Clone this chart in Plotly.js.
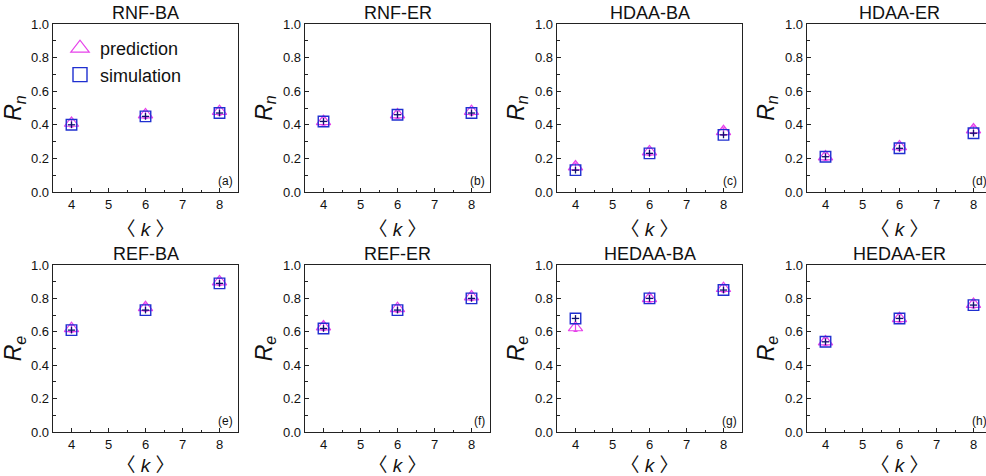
<!DOCTYPE html>
<html>
<head>
<meta charset="utf-8">
<script src="https://cdn.plot.ly/plotly-3.0.1.min.js"></script>
<style>
html,body{margin:0;padding:0;overflow:hidden;background:#fff;}
#chart{width:1000px;height:476px;}
</style>
</head>
<body>
<div id="chart"></div>
<script>
// ---- data ----
const kValues = [4, 6, 8];
const panelTitles = ["RNF-BA", "RNF-ER", "HDAA-BA", "HDAA-ER", "REF-BA", "REF-ER", "HEDAA-BA", "HEDAA-ER"];
const panelLetters = ["(a)", "(b)", "(c)", "(d)", "(e)", "(f)", "(g)", "(h)"];
const yLabels = ["R", "R", "R", "R", "R", "R", "R", "R"];
const ySubs = ["n", "n", "n", "n", "e", "e", "e", "e"];
const xLabel = "〈 <i>k</i> 〉";
const legendNames = ["prediction", "simulation"];

const predRnfBa = [0.41, 0.46, 0.48];
const simRnfBa = [0.40, 0.45, 0.47];
const predRnfEr = [0.42, 0.46, 0.48];
const simRnfEr = [0.42, 0.46, 0.47];
const predHdaaBa = [0.15, 0.24, 0.36];
const simHdaaBa = [0.13, 0.23, 0.34];
const predHdaaEr = [0.21, 0.27, 0.37];
const simHdaaEr = [0.21, 0.26, 0.35];
const predRefBa = [0.62, 0.745, 0.90];
const simRefBa = [0.61, 0.73, 0.89];
const predRefEr = [0.63, 0.74, 0.81];
const simRefEr = [0.62, 0.73, 0.80];
const predHedaaBa = [0.625, 0.80, 0.86];
const simHedaaBa = [0.68, 0.80, 0.85];
const predHedaaEr = [0.54, 0.68, 0.765];
const simHedaaEr = [0.54, 0.68, 0.76];

const predErr = [0.022, 0.022, 0.022];
const simErrY = [0.02, 0.02, 0.02];
const simErrX = [0.1, 0.1, 0.1];

const predSeries = [predRnfBa, predRnfEr, predHdaaBa, predHdaaEr, predRefBa, predRefEr, predHedaaBa, predHedaaEr];
const simSeries = [simRnfBa, simRnfEr, simHdaaBa, simHdaaEr, simRefBa, simRefEr, simHedaaBa, simHedaaEr];

// ---- layout helpers ----
const W = 1000, H = 476;
const colStarts = [53, 305, 557, 807];
const panelW = 185;
const rowPix = [[24, 192], [265, 432]];
const FONT = "Arial, 'Liberation Sans', 'Noto Sans CJK SC', sans-serif";
const predColor = "#e642ea";
const simColor = "#1f2fd0";
const errColor = "#101070";

const traces = [];
const layout = {
  width: W, height: H,
  margin: {l: 0, r: 0, t: 0, b: 0},
  paper_bgcolor: "#fff", plot_bgcolor: "#fff",
  font: {family: FONT, color: "#111"},
  showlegend: true,
  legend: {
    x: 0.060, y: (H - 30) / H, xanchor: "left", yanchor: "top",
    bgcolor: "rgba(0,0,0,0)", font: {size: 18, family: FONT, color: "#111"},
    tracegroupgap: 0, itemwidth: 30
  },
  annotations: []
};

for (let i = 0; i < 8; i++) {
  const row = Math.floor(i / 4), col = i % 4;
  const ax = i === 0 ? "" : String(i + 1);
  const x0 = colStarts[col] / W, x1 = (colStarts[col] + panelW) / W;
  const y0 = (H - rowPix[row][1]) / H, y1 = (H - rowPix[row][0]) / H;
  const axisCommon = {
    showline: true, mirror: true, linecolor: "#222", linewidth: 1.3,
    ticks: "inside", ticklen: 4, tickwidth: 1.2, tickcolor: "#222",
    showgrid: false, zeroline: false,
    tickfont: {size: 13, family: FONT, color: "#111"},
    minor: {ticks: "inside", ticklen: 2.5, tickwidth: 1, tickcolor: "#222", showgrid: false}
  };
  layout["xaxis" + ax] = Object.assign({}, axisCommon, {
    domain: [x0, x1], anchor: "y" + ax, range: [3.5, 8.5],
    tick0: 4, dtick: 1, minor: Object.assign({}, axisCommon.minor, {dtick: 0.5}),
    title: {text: xLabel, font: {size: 19, family: FONT, color: "#111"}, standoff: 11}
  });
  layout["yaxis" + ax] = Object.assign({}, axisCommon, {
    domain: [y0, y1], anchor: "x" + ax, range: [0, 1],
    tick0: 0, dtick: 0.2, tickformat: ".1f",
    minor: Object.assign({}, axisCommon.minor, {dtick: 0.1}),
    title: {text: "<i>" + yLabels[i] + "</i><sub><i>" + ySubs[i] + "</i></sub>", font: {size: 23, family: FONT, color: "#111"}, standoff: 4}
  });
  traces.push({
    type: "scatter", mode: "markers", name: legendNames[0],
    x: kValues, y: predSeries[i], xaxis: "x" + ax, yaxis: "y" + ax,
    showlegend: false,
    marker: {symbol: "triangle-up-open", size: 12.5, color: predColor, line: {width: 1.2, color: predColor}},
    error_y: {type: "data", array: predErr, color: predColor, thickness: 1.2, width: 2}
  });
  traces.push({
    type: "scatter", mode: "markers", name: legendNames[1],
    x: kValues, y: simSeries[i], xaxis: "x" + ax, yaxis: "y" + ax,
    showlegend: false,
    marker: {symbol: "square-open", size: 10.5, color: simColor, line: {width: 1.4, color: simColor}},
    error_y: {type: "data", array: simErrY, color: errColor, thickness: 1.3, width: 0},
    error_x: {type: "data", array: simErrX, color: errColor, thickness: 1.3, width: 0}
  });
  layout.annotations.push({
    text: panelTitles[i], xref: "x" + ax + " domain", yref: "y" + ax + " domain",
    x: 0.5, y: 1, xanchor: "center", yanchor: "bottom", yshift: -1, showarrow: false,
    font: {size: 18, family: FONT, color: "#111"}
  });
  layout.annotations.push({
    text: panelLetters[i], xref: "x" + ax + " domain", yref: "y" + ax + " domain",
    x: 0.985, y: 0.01, xanchor: "right", yanchor: "bottom", showarrow: false,
    font: {size: 12, family: FONT, color: "#111"}
  });
}

// legend entries (larger symbols, as in the reference legend)
traces.push({
  type: "scatter", mode: "markers", name: legendNames[0], x: [null], y: [null],
  xaxis: "x", yaxis: "y", showlegend: true, hoverinfo: "skip",
  marker: {symbol: "triangle-up-open", size: 16, color: predColor, line: {width: 1.2, color: predColor}}
});
traces.push({
  type: "scatter", mode: "markers", name: legendNames[1], x: [null], y: [null],
  xaxis: "x", yaxis: "y", showlegend: true, hoverinfo: "skip",
  marker: {symbol: "square-open", size: 14, color: simColor, line: {width: 1.4, color: simColor}}
});

Plotly.newPlot("chart", traces, layout, {displayModeBar: false, staticPlot: true});
</script>
</body>
</html>
